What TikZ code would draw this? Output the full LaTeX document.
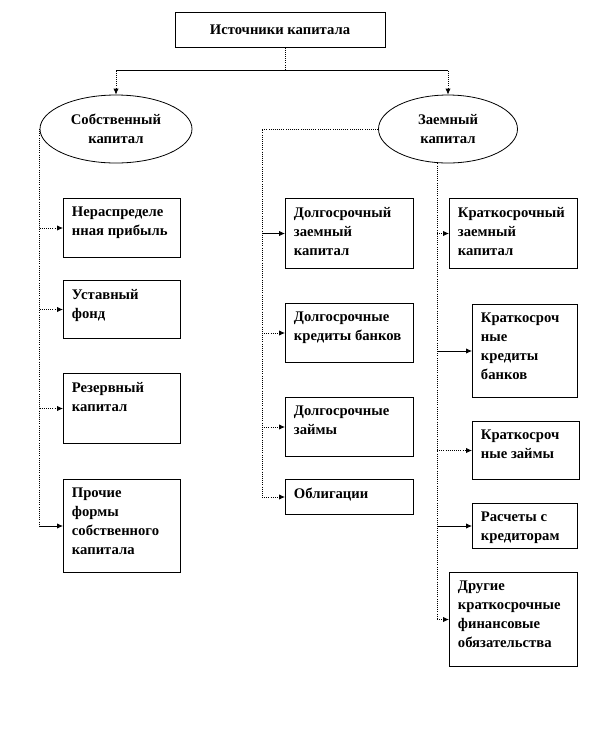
\documentclass[tikz,border=0pt]{standalone}
\usepackage{fontspec}
\setmainfont{Liberation Serif}
\usetikzlibrary{arrows.meta, positioning, shapes.geometric}

\begin{document}
\begin{tikzpicture}[
x=0.75pt, y=-0.75pt,
font=\fontsize{11}{14.3}\selectfont\bfseries,
box/.style={rectangle, draw, line width=0.75pt, anchor=north west, inner sep=0pt},
txt/.style={anchor=north west, align=left, inner sep=0pt, xshift=6.5pt, yshift=-6.5pt},
oval/.style={ellipse, draw, line width=0.6pt, align=center, inner sep=0pt, minimum height=51pt},
arr/.style={-{Latex[length=4.5pt, width=4pt]}, line width=0.6pt},
dotln/.style={densely dotted, line width=0.6pt}
]
\useasboundingbox (0,0) rectangle (591,744);

\node[box, anchor=center, minimum width=157.5pt, minimum height=26.25pt] (top) at (280,29.5) {Источники капитала};
\node[oval, minimum width=114pt] (own) at (116,129) {Собственный\\капитал};
\node[oval, minimum width=104.25pt] (zaem) at (448,129) {Заемный\\капитал};

\node[box, minimum width=87.75pt, minimum height=44.25pt] (nerasp) at (63,198) {};
\node[txt] at (nerasp.north west) {Нераспределе\\нная прибыль};
\node[box, minimum width=87.75pt, minimum height=43.5pt] (ustav) at (63,280) {};
\node[txt] at (ustav.north west) {Уставный\\фонд};
\node[box, minimum width=87.75pt, minimum height=52.5pt] (rezerv) at (63,373) {};
\node[txt] at (rezerv.north west) {Резервный\\капитал};
\node[box, minimum width=87.75pt, minimum height=69.75pt] (proch) at (63,479) {};
\node[txt] at (proch.north west) {Прочие\\формы\\собственного\\капитала};

\node[box, minimum width=96pt, minimum height=52.5pt] (dzk) at (285,198) {};
\node[txt] at (dzk.north west) {Долгосрочный\\заемный\\капитал};
\node[box, minimum width=96pt, minimum height=44.25pt] (dkb) at (285,303) {};
\node[txt] at (dkb.north west) {Долгосрочные\\кредиты банков};
\node[box, minimum width=96pt, minimum height=44.25pt] (dz) at (285,397) {};
\node[txt] at (dz.north west) {Долгосрочные\\займы};
\node[box, minimum width=96pt, minimum height=26.25pt] (obl) at (285,479) {};
\node[txt] at (obl.north west) {Облигации};

\node[box, minimum width=96pt, minimum height=52.5pt] (kzk) at (449,198) {};
\node[txt] at (kzk.north west) {Краткосрочный\\заемный\\капитал};
\node[box, minimum width=78.75pt, minimum height=69.75pt] (kkb) at (472,304) {};
\node[txt] at (kkb.north west) {Краткосроч\\ные\\кредиты\\банков};
\node[box, minimum width=80.25pt, minimum height=43.5pt] (kz) at (472,421) {};
\node[txt] at (kz.north west) {Краткосроч\\ные займы};
\node[box, minimum width=78.75pt, minimum height=33.75pt] (rk) at (472,503) {};
\node[txt] at (rk.north west) {Расчеты с\\кредиторам};
\node[box, minimum width=96pt, minimum height=70.5pt] (dkfo) at (449,572) {};
\node[txt] at (dkfo.north west) {Другие\\краткосрочные\\финансовые\\обязательства};

\coordinate (midline) at (262,0);
\coordinate (rline) at (437,0);

\draw[dotln] ([xshift=3.75pt]top.south) -- ++(0,23) coordinate (split);
\draw[line width=0.6pt] (split -| own.north) -- (split -| zaem.north);
\draw[arr, dotln] (split -| own.north) -- (own.north);
\draw[arr, dotln] (split -| zaem.north) -- (zaem.north);

\draw[dotln] (own.west) -- (proch.west -| own.west);
\draw[arr, dotln] (nerasp.west -| own.west) -- (nerasp.west);
\draw[arr, dotln] (ustav.west -| own.west) -- (ustav.west);
\draw[arr, dotln] (rezerv.west -| own.west) -- (rezerv.west);
\draw[arr] (proch.west -| own.west) -- (proch.west);

\draw[dotln] (zaem.west) -- (zaem.west -| midline) -- (obl.west -| midline);
\draw[arr] (dzk.west -| midline) -- (dzk.west);
\draw[arr, dotln] (dkb.west -| midline) -- (dkb.west);
\draw[arr, dotln] (dz.west -| midline) -- (dz.west);
\draw[arr, dotln] (obl.west -| midline) -- (obl.west);

\draw[dotln] (zaem.south -| rline) -- (dkfo.west -| rline);
\draw[arr, dotln] (kzk.west -| rline) -- (kzk.west);
\draw[arr] (kkb.west -| rline) -- (kkb.west);
\draw[arr, dotln] (kz.west -| rline) -- (kz.west);
\draw[arr] (rk.west -| rline) -- (rk.west);
\draw[arr, dotln] (dkfo.west -| rline) -- (dkfo.west);
\end{tikzpicture}
\end{document}
